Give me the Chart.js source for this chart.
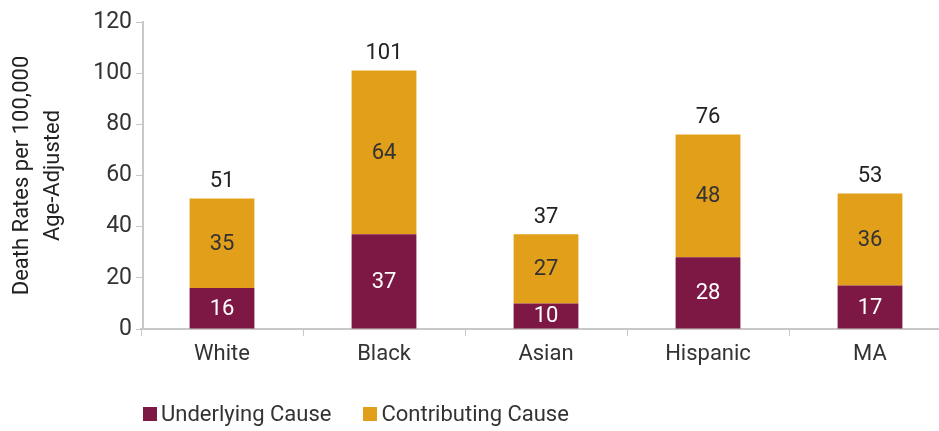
<!DOCTYPE html>
<html>
<head>
<meta charset="utf-8">
<script src="https://cdn.jsdelivr.net/npm/chart.js@4/dist/chart.umd.min.js"></script>
<style>
  body { margin: 0; background: #fff; }
  #wrap { position: relative; width: 939px; height: 431px; overflow: hidden; }
  #legend { position: absolute; left: 143px; top: 401px; display: flex;
    font-family: 'Roboto', sans-serif; font-size: 22px; color: #333; }
  #legend .item { display: flex; align-items: center; margin-right: 32px; }
  #legend .box { width: 14px; height: 14px; margin-right: 4px; }
</style>
</head>
<body>
<div id="wrap">
  <canvas id="chart" width="939" height="431"></canvas>
  <div id="legend"></div>
</div>
<script>
const groups = ['White', 'Black', 'Asian', 'Hispanic', 'MA'];
const underlying = [16, 37, 10, 28, 17];
const contributing = [35, 64, 27, 48, 36];
const totals = [51, 101, 37, 76, 53];
const yTicks = [0, 20, 40, 60, 80, 100, 120];

const FONT = "'Roboto', sans-serif";
const MAROON = '#7d1844';
const GOLD = '#e29f19';

// value labels inside each segment plus the total above the stack
const barLabels = {
  id: 'barLabels',
  afterDatasetsDraw(chart){
    const ctx = chart.ctx;
    ctx.save();
    ctx.font = '22px ' + FONT;
    ctx.textAlign = 'center';
    ctx.textBaseline = 'middle';
    chart.data.datasets.forEach((ds, di) =>{
      const meta = chart.getDatasetMeta(di);
      meta.data.forEach((bar, i) =>{
        const mid = (bar.y + bar.base) / 2;
        ctx.fillStyle = di === 0 ? '#ffffff' : '#333333';
        ctx.fillText(ds.data[i], bar.x, mid + 1);
      });
    });
    const top = chart.getDatasetMeta(1);
    ctx.fillStyle = '#222222';
    top.data.forEach((bar, i) =>{
      ctx.fillText(totals[i], bar.x, bar.y - 17);
    });
    ctx.restore();
  }
};

// pin the plot box: value axis from y=22 to 329, category axis running past the right edge
const plotBox = {
  id: 'plotBox',
  afterLayout(chart){
    const x = chart.scales.x;
    const y = chart.scales.y;
    x.left = 141;
    x.right = 141 + 810;
    x.width = 810;
    x.configure();
    y.top = 22;
    y.height = y.bottom - 22;
    y.configure();
    chart.chartArea.top = 22;
    chart.chartArea.height = chart.chartArea.bottom - 22;
    chart.chartArea.right = x.right;
    chart.chartArea.width = x.right - chart.chartArea.left;
  }
};

const chart = new Chart(document.getElementById('chart'), {
  type: 'bar',
  data: {
    labels: groups,
    datasets: [
      { label: 'Underlying Cause', data: underlying, backgroundColor: MAROON },
      { label: 'Contributing Cause', data: contributing, backgroundColor: GOLD }
    ]
  },
  options: {
    responsive: false,
    animation: false,
    events: [],
    layout: { padding: { top: 12, right: 0, bottom: 0, left: 0 } },
    datasets: { bar: { categoryPercentage: 1, barPercentage: 0.4 } },
    plugins: { legend: { display: false }, tooltip: { enabled: false } },
    scales: {
      x: {
        stacked: true,
        afterFit(scale){ scale.height = 431 - 329; },
        grid: { offset: true, drawOnChartArea: false, color: '#c8c8c8', tickLength: 7 },
        border: { color: '#c8c8c8', width: 2 },
        ticks: { color: '#333', font: { family: FONT, size: 22 }, padding: 5 }
      },
      y: {
        stacked: true,
        min: 0, max: 120,
        afterBuildTicks(scale){ scale.ticks = yTicks.map(v => ({ value: v })); },
        afterFit(scale){ scale.width = 143; },
        grid: { drawOnChartArea: false, color: '#c8c8c8', tickLength: 7 },
        border: { color: '#c8c8c8', width: 2 },
        ticks: { color: '#333', font: { family: FONT, size: 23 }, padding: 4 },
        title: {
          display: true,
          text: ['Death Rates per 100,000', 'Age-Adjusted'],
          color: '#222',
          font: { family: FONT, size: 22, lineHeight: 1.4 },
          padding: { top: 7, bottom: 0 }
        }
      }
    }
  },
  plugins: [barLabels, plotBox]
});

// legend below the plot
const legend = document.getElementById('legend');
chart.data.datasets.forEach(ds =>{
  const item = document.createElement('div');
  item.className = 'item';
  item.innerHTML = '<span class="box" style="background:' + ds.backgroundColor + '"></span><span>' + ds.label + '</span>';
  legend.appendChild(item);
});
</script>
</body>
</html>
